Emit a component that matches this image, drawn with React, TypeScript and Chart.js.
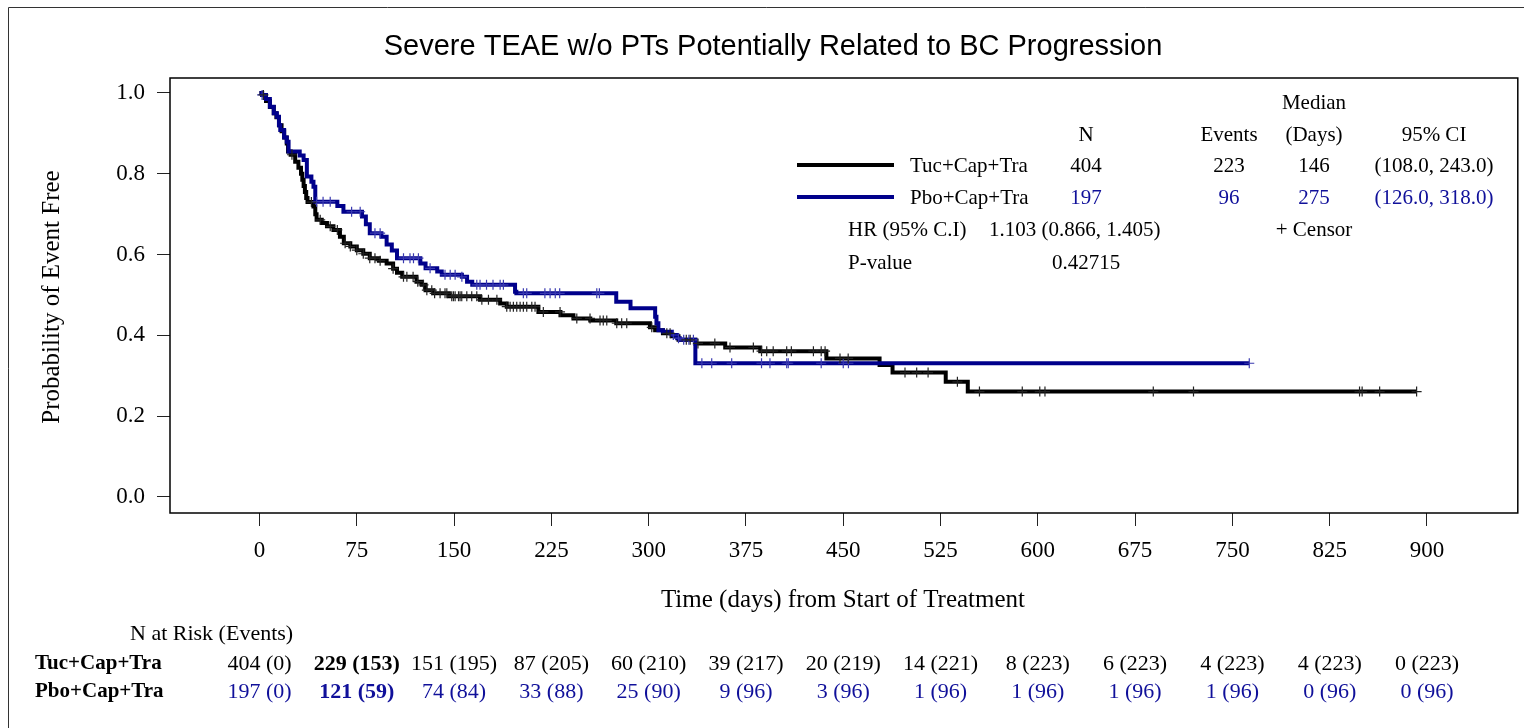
import React, { useEffect, useRef } from "react";
import { Chart, registerables } from "chart.js";
Chart.register(...registerables);

// ---------- data ----------
const TUC_DAYS = [0, 2, 5, 8, 11, 13, 15, 17, 19, 21, 22, 24, 27.5, 30, 32, 33, 34, 35, 36, 37, 41.6, 43, 44, 48, 52, 57, 62, 65, 70, 75, 80, 85, 92, 98, 103, 106, 110, 121, 125, 128, 134, 146, 170, 185.5, 190.6, 215, 232, 242, 255, 275, 301, 305, 311, 318, 323, 336, 359, 386, 437, 478, 488, 529, 546, 892];
const TUC_SURV = [1.0, 0.995, 0.98, 0.965, 0.95, 0.94, 0.92, 0.905, 0.89, 0.875, 0.855, 0.847, 0.83, 0.815, 0.8, 0.785, 0.77, 0.755, 0.74, 0.73, 0.719, 0.7, 0.686, 0.678, 0.67, 0.661, 0.644, 0.628, 0.62, 0.611, 0.602, 0.591, 0.585, 0.578, 0.565, 0.555, 0.545, 0.533, 0.525, 0.512, 0.504, 0.497, 0.488, 0.479, 0.471, 0.458, 0.45, 0.442, 0.437, 0.43, 0.42, 0.413, 0.405, 0.398, 0.389, 0.38, 0.37, 0.361, 0.343, 0.327, 0.308, 0.285, 0.261, 0.261];

const PBO_DAYS = [0, 2, 5, 8, 11, 13.4, 15, 16, 19, 21, 22.4, 31, 34, 36.5, 40, 41.6, 43, 60, 64.7, 79, 82, 85, 94, 98, 102, 106, 124, 128, 137, 140.5, 156, 160, 164, 197, 198, 275, 286, 305, 306, 307.5, 311, 318, 322, 324, 336, 763];
const PBO_SURV = [1.0, 0.995, 0.985, 0.966, 0.95, 0.941, 0.92, 0.908, 0.89, 0.879, 0.855, 0.845, 0.834, 0.793, 0.78, 0.768, 0.731, 0.72, 0.706, 0.694, 0.675, 0.653, 0.644, 0.625, 0.61, 0.591, 0.578, 0.566, 0.558, 0.55, 0.545, 0.533, 0.525, 0.508, 0.504, 0.483, 0.467, 0.446, 0.43, 0.413, 0.409, 0.401, 0.393, 0.389, 0.331, 0.331];

const TUC_CENSOR = [3, 25, 40, 46.8, 54.5, 60, 66, 70, 75, 80, 85, 89, 93, 103, 111, 113.6, 118.4, 122, 126.4, 129, 132.8, 135, 139.2, 143, 144.4, 148.2, 149.5, 150.8, 153.4, 154.6, 155.9, 159.8, 163.6, 167.5, 171.4, 176.5, 183, 190.6, 193.2, 195.7, 198.3, 200.9, 203.4, 206, 209.9, 212.4, 218.8, 231.7, 244.6, 254.8, 262.5, 265, 267.7, 275.4, 279.2, 283.1, 302.4, 314, 316.5, 329, 332, 338, 351, 362.7, 380.7, 387, 391, 396, 406.4, 410, 427, 433, 436, 447.5, 453.8, 497.6, 506.6, 515.4, 538, 555, 588, 601.5, 605.5, 689, 720, 848, 850, 863.5, 892];
const PBO_CENSOR = [2, 44, 49, 54.5, 71, 77.6, 89, 93, 111, 116, 118.7, 122.5, 131.5, 143, 147, 150.8, 156, 167.5, 170, 175, 180, 185.5, 188, 203.4, 206, 220, 224, 228, 231.4, 260, 262, 319, 323, 327, 331, 334.5, 341, 348.6, 364, 387, 393.5, 406.4, 407.6, 433, 450, 454, 763];

const X_TICKS = [0, 75, 150, 225, 300, 375, 450, 525, 600, 675, 750, 825, 900];
const Y_TICKS = [0, 0.2, 0.4, 0.6, 0.8, 1.0];

const RISK_DAYS = X_TICKS;
const RISK_TUC = ["404 (0)", "229 (153)", "151 (195)", "87 (205)", "60 (210)", "39 (217)", "20 (219)", "14 (221)", "8 (223)", "6 (223)", "4 (223)", "4 (223)", "0 (223)"];
const RISK_PBO = ["197 (0)", "121 (59)", "74 (84)", "33 (88)", "25 (90)", "9 (96)", "3 (96)", "1 (96)", "1 (96)", "1 (96)", "1 (96)", "0 (96)", "0 (96)"];
const RISK_BOLD = [false, true, false, false, false, false, false, false, false, false, false, false, false];

const GROUPS = ["Tuc+Cap+Tra", "Pbo+Cap+Tra"];
const LEG_N = ["404", "197"];
const LEG_EVENTS = ["223", "96"];
const LEG_MEDIAN = ["146", "275"];
const LEG_CI = ["(108.0, 243.0)", "(126.0, 318.0)"];
const HR_LABEL = "HR (95% C.I)";
const HR_TEXT = "1.103 (0.866, 1.405)";
const P_LABEL = "P-value";
const P_TEXT = "0.42715";

const TITLE = "Severe TEAE w/o PTs Potentially Related to BC Progression";
const X_TITLE = "Time (days) from Start of Treatment";
const Y_TITLE = "Probability of Event Free";

// ---------- styles ----------
const BLACK = "#000000";
const BLUE_LINE = "#00008b";
const BLUE_TEXT = "#10109a";
const SERIF = '"Liberation Serif", "Times New Roman", serif';
const SANS = '"Liberation Sans", Arial, sans-serif';

function survAt(days: number[], surv: number[], t: number) {
  let v = surv[0];
  for (let i = 0; i < days.length; i++) {
    if (days[i] <= t) v = surv[i];
  }
  return v;
}

const overlay = {
  id: "kmOverlay",
  afterDraw(chart: any) {
    const ctx = chart.ctx;
    const a = chart.chartArea;
    const xs = chart.scales.x;
    ctx.save();

    // outer frame
    ctx.strokeStyle = "#333";
    ctx.lineWidth = 1;
    ctx.beginPath();
    ctx.moveTo(8.5, 740);
    ctx.lineTo(8.5, 7.5);
    ctx.lineTo(1540, 7.5);
    ctx.stroke();

    // plot box
    ctx.strokeStyle = "#000";
    ctx.lineWidth = 1.5;
    ctx.strokeRect(a.left, a.top, a.right - a.left, a.bottom - a.top);

    // title
    ctx.fillStyle = "#000";
    ctx.textBaseline = "middle";
    ctx.textAlign = "center";
    ctx.font = `29px ${SANS}`;
    ctx.fillText(TITLE, 773, 47);

    // axis titles
    ctx.font = `25px ${SERIF}`;
    ctx.fillText(X_TITLE, 843, 600);
    ctx.save();
    ctx.translate(52, 297);
    ctx.rotate(-Math.PI / 2);
    ctx.fillText(Y_TITLE, 0, 0);
    ctx.restore();

    // legend table
    ctx.font = `21px ${SERIF}`;
    const colN = 1086, colE = 1229, colM = 1314, colC = 1434;
    ctx.textAlign = "center";
    ctx.fillText("Median", colM, 103);
    ctx.fillText("N", colN, 135);
    ctx.fillText("Events", colE, 135);
    ctx.fillText("(Days)", colM, 135);
    ctx.fillText("95% CI", colC, 135);
    const rowY = [166, 198];
    const lineY = [165, 197];
    for (let g = 0; g < 2; g++) {
      ctx.strokeStyle = g === 0 ? BLACK : BLUE_LINE;
      ctx.lineWidth = 4;
      ctx.beginPath();
      ctx.moveTo(797, lineY[g]);
      ctx.lineTo(894, lineY[g]);
      ctx.stroke();
      ctx.fillStyle = "#000";
      ctx.textAlign = "left";
      ctx.fillText(GROUPS[g], 910, rowY[g]);
      ctx.fillStyle = g === 0 ? "#000" : BLUE_TEXT;
      ctx.textAlign = "center";
      ctx.fillText(LEG_N[g], colN, rowY[g]);
      ctx.fillText(LEG_EVENTS[g], colE, rowY[g]);
      ctx.fillText(LEG_MEDIAN[g], colM, rowY[g]);
      ctx.fillText(LEG_CI[g], colC, rowY[g]);
    }
    ctx.fillStyle = "#000";
    ctx.textAlign = "left";
    ctx.fillText(HR_LABEL, 848, 230);
    ctx.fillText(HR_TEXT, 989, 230);
    ctx.fillText(P_LABEL, 848, 263);
    ctx.textAlign = "center";
    ctx.fillText("+ Censor", colM, 230);
    ctx.fillText(P_TEXT, colN, 263);

    // at-risk table
    ctx.font = `22px ${SERIF}`;
    ctx.textAlign = "left";
    ctx.fillText("N at Risk (Events)", 130, 634);
    ctx.font = `bold 21px ${SERIF}`;
    ctx.fillText(GROUPS[0], 35, 664);
    ctx.fillText(GROUPS[1], 35, 692);
    ctx.textAlign = "center";
    for (let i = 0; i < RISK_DAYS.length; i++) {
      const px = xs.getPixelForValue(RISK_DAYS[i]);
      const w = RISK_BOLD[i] ? "bold " : "";
      ctx.font = `${w}22px ${SERIF}`;
      ctx.fillStyle = "#000";
      ctx.fillText(RISK_TUC[i], px, 664);
      ctx.fillStyle = BLUE_TEXT;
      ctx.fillText(RISK_PBO[i], px, 692);
    }
    ctx.restore();
  },
};

export default function App() {
  const ref = useRef<HTMLCanvasElement>(null);
  useEffect(() => {
    if (!ref.current) return;
    const tucLine = TUC_DAYS.map((d, i) => ({ x: d, y: TUC_SURV[i] }));
    const pboLine = PBO_DAYS.map((d, i) => ({ x: d, y: PBO_SURV[i] }));
    const tucCens = TUC_CENSOR.map((d) => ({ x: d, y: survAt(TUC_DAYS, TUC_SURV, d) }));
    const pboCens = PBO_CENSOR.map((d) => ({ x: d, y: survAt(PBO_DAYS, PBO_SURV, d) }));

    const tickFont = { family: SERIF, size: 23 };
    const chart = new Chart(ref.current, {
      type: "line",
      data: {
        datasets: [
          {
            label: "Tuc censor",
            data: tucCens,
            showLine: false,
            pointStyle: "cross",
            pointRadius: 5,
            pointBorderWidth: 1.2,
            pointBorderColor: "#222",
            borderColor: "#222",
            order: 0,
          },
          {
            label: "Pbo censor",
            data: pboCens,
            showLine: false,
            pointStyle: "cross",
            pointRadius: 5,
            pointBorderWidth: 1.2,
            pointBorderColor: "#3a3ab0",
            borderColor: "#3a3ab0",
            order: 0,
          },
          {
            label: "Pbo+Cap+Tra",
            data: pboLine,
            stepped: "before",
            borderColor: BLUE_LINE,
            borderWidth: 4,
            pointRadius: 0,
            fill: false,
            order: 1,
          },
          {
            label: "Tuc+Cap+Tra",
            data: tucLine,
            stepped: "before",
            borderColor: BLACK,
            borderWidth: 4,
            pointRadius: 0,
            fill: false,
            order: 2,
          },
        ],
      } as any,
      options: {
        animation: false,
        responsive: false,
        devicePixelRatio: 1,
        parsing: false as any,
        layout: { padding: { left: 0, right: 6, top: 78, bottom: 155 } },
        plugins: {
          legend: { display: false },
          tooltip: { enabled: false },
          title: { display: false },
        },
        scales: {
          x: {
            type: "linear",
            min: -69,
            max: 970,
            afterBuildTicks: (s: any) => {
              s.ticks = X_TICKS.map((v) => ({ value: v }));
            },
            afterFit: (s: any) => {
              s.height = 60;
            },
            ticks: {
              font: tickFont,
              color: "#000",
              padding: 11,
              maxRotation: 0,
              autoSkip: false,
              callback: (v: any) => String(v),
            },
            grid: {
              drawOnChartArea: false,
              drawTicks: true,
              tickLength: 13,
              color: "#222",
              lineWidth: 1,
            },
            border: { display: false },
          },
          y: {
            type: "linear",
            min: -0.0396,
            max: 1.037,
            afterBuildTicks: (s: any) => {
              s.ticks = Y_TICKS.map((v) => ({ value: v }));
            },
            afterFit: (s: any) => {
              s.width = 170;
            },
            ticks: {
              font: tickFont,
              color: "#000",
              padding: 12,
              autoSkip: false,
              callback: (v: any) => Number(v).toFixed(1),
            },
            grid: {
              drawOnChartArea: false,
              drawTicks: true,
              tickLength: 13,
              color: "#222",
              lineWidth: 1,
            },
            border: { display: false },
          },
        },
      } as any,
      plugins: [overlay],
    });
    return () => chart.destroy();
  }, []);

  return (
    <div style={{ position: "fixed", left: 0, top: 0, width: 1524, height: 728, background: "#fff" }}>
      <canvas ref={ref} width={1524} height={728} style={{ width: 1524, height: 728, display: "block" }} />
    </div>
  );
}
